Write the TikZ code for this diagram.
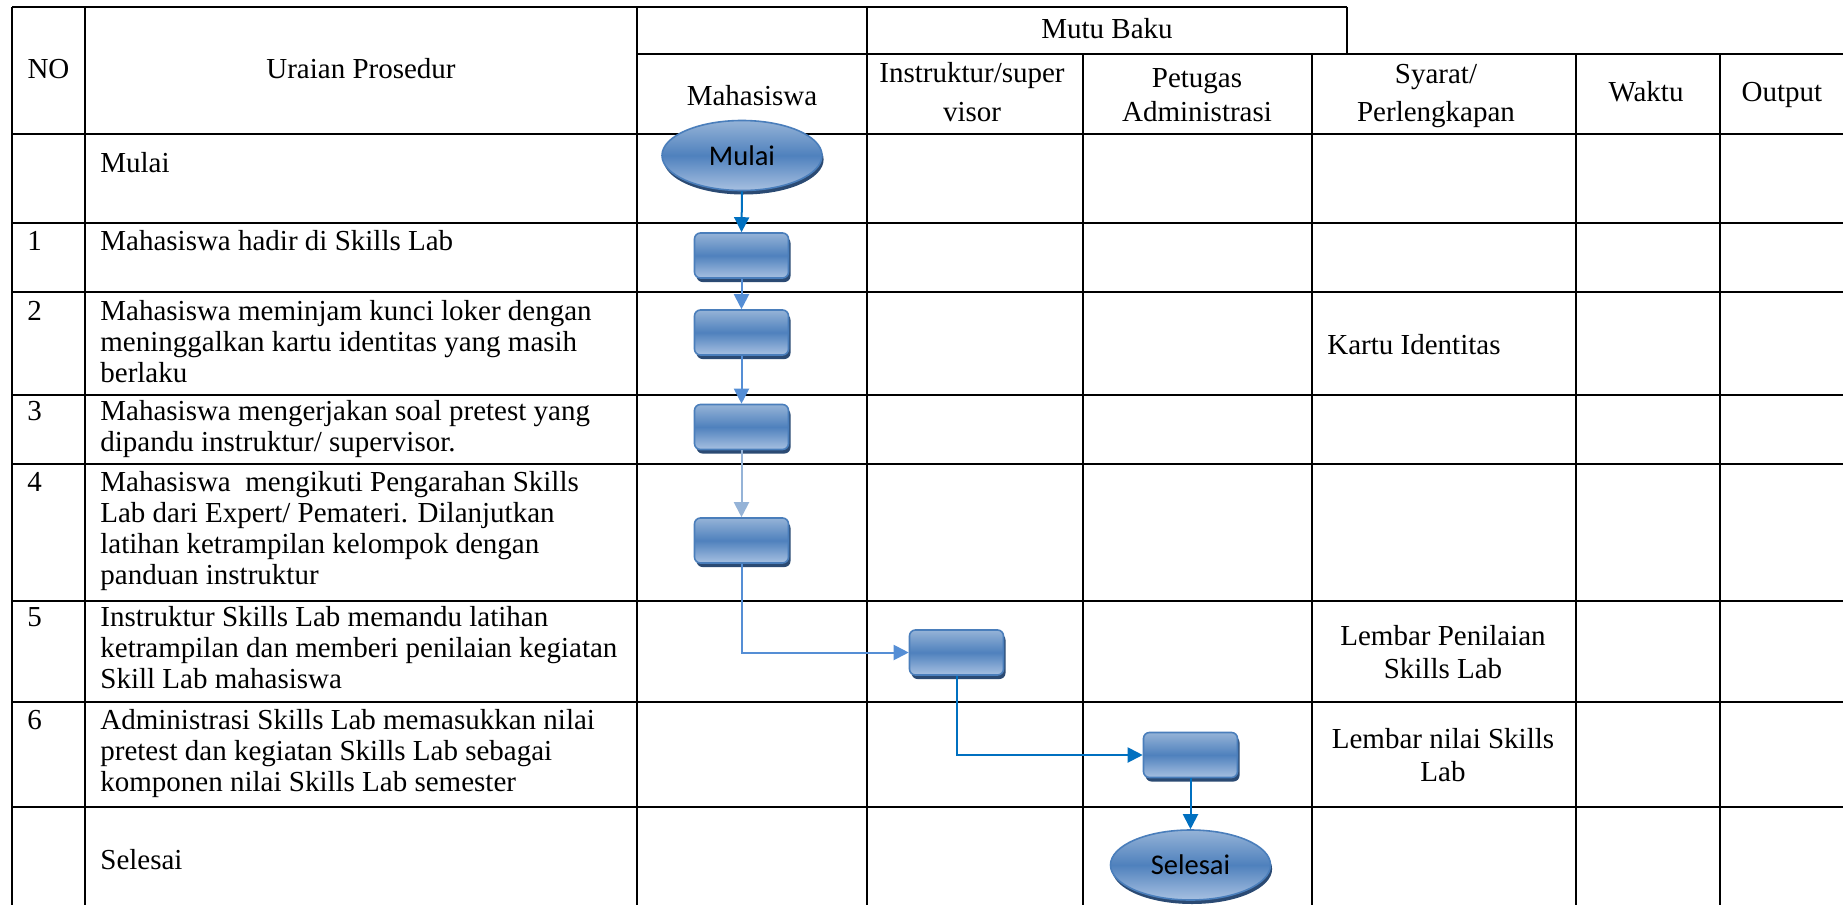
\documentclass[tikz,border=0pt]{standalone}
\usepackage{fontspec}
\setmainfont{Liberation Serif}
\newfontfamily\calib{Carlito}
\usetikzlibrary{shapes.geometric,shadows,arrows.meta,calc}
\definecolor{boxlight}{HTML}{95B3D7}
\definecolor{boxmid}{HTML}{4F81BD}
\definecolor{boxbottom}{HTML}{A7C0E1}
\definecolor{boxborder}{HTML}{4A7EBB}
\definecolor{shadowc}{HTML}{2B4A73}
\definecolor{arrdark}{HTML}{0070C0}
\definecolor{arrmid}{HTML}{558ED5}
\definecolor{arrlight}{HTML}{95B3D7}
\begin{document}
\begin{tikzpicture}[x=0.5pt,y=-0.5pt,
  grid/.style={line width=1pt, black},
  hgrid/.style={line width=1.4pt, black},
  txt/.style={anchor=base west, inner sep=0pt, font=\fontsize{14.5}{15.5}\selectfont},
  ctxt/.style={anchor=base, inner sep=0pt, font=\fontsize{14.5}{15.5}\selectfont},
  proc/.style={rectangle, rounded corners=3pt, minimum width=47pt, minimum height=22.5pt,
    inner sep=0pt, draw=boxborder, line width=0.8pt,
    top color=boxlight, bottom color=boxbottom, middle color=boxmid,
    drop shadow={shadow xshift=1pt, shadow yshift=-2pt, fill=shadowc, opacity=1}},
  term/.style={ellipse, minimum width=80pt, minimum height=35pt, inner sep=0pt,
    draw=boxborder, line width=0.8pt,
    top color=boxlight, bottom color=boxbottom, middle color=boxmid,
    drop shadow={shadow xshift=0.8pt, shadow yshift=-2pt, fill=shadowc, opacity=1},
    font=\calib\fontsize{14.25}{16}\selectfont},
  flow/.style={line width=1pt, -{Triangle[length=7.5pt,width=7.5pt]}},
]
\useasboundingbox (0,0) rectangle (1843,905);
\fill[white] (0,0) rectangle (1843,905);

% ---- table grid ----
\draw[grid] (12.3,6.7) -- (12.3,906);
\draw[grid] (85,6.7) -- (85,906);
\draw[grid] (637,6.7) -- (637,906);
\draw[grid] (867,6.7) -- (867,906);
\draw[grid] (1083,54.3) -- (1083,906);
\draw[grid] (1312,54.3) -- (1312,906);
\draw[grid] (1347,6.7) -- (1347,54.3);
\draw[grid] (1576,54.3) -- (1576,906);
\draw[grid] (1720,54.3) -- (1720,906);
\draw[grid] (12.3,6.7) -- (1347,6.7);
\draw[grid] (637,54.3) -- (1844,54.3);
\draw[hgrid] (12.3,134) -- (1844,134);
\foreach \yy in {222.5,292,394.5,464,601,702,807}
  \draw[grid] (12.3,\yy) -- (1844,\yy);

% ---- header texts ----
\node[ctxt] (hno) at (48.5,78.7) {NO};
\node[ctxt] (hur) at (361,78.7) {Uraian Prosedur};
\node[ctxt] (hmb) at (1107,38.3) {Mutu Baku};
\node[ctxt] (hmh) at (752,105) {Mahasiswa};
\node[ctxt] (his1) at (972,82) {Instruktur/super};
\node[ctxt] (his2) at (972,121) {visor};
\node[ctxt] (hpa1) at (1197,87) {Petugas};
\node[ctxt] (hpa2) at (1197,121) {Administrasi};
\node[ctxt] (hsp1) at (1436,83) {Syarat/};
\node[ctxt] (hsp2) at (1436,121) {Perlengkapan};
\node[ctxt] (hwk) at (1646,101.5) {Waktu};
\node[ctxt] (hop) at (1782,101.5) {Output};

% ---- row texts ----
\node[txt] (r0) at (100,172) {Mulai};
\node[txt] (n1) at (27,250.7) {1};
\node[txt] (r1) at (100,250.7) {Mahasiswa hadir di Skills Lab};
\node[txt] (n2) at (27,320.7) {2};
\node[txt] (r2a) at (100,320.7) {Mahasiswa meminjam kunci loker dengan};
\node[txt] (r2b) at (100,351.7) {meninggalkan kartu identitas yang masih};
\node[txt] (r2c) at (100,382.7) {berlaku};
\node[txt] (n3) at (27,420.7) {3};
\node[txt] (r3a) at (100,420.7) {Mahasiswa mengerjakan soal pretest yang};
\node[txt] (r3b) at (100,451.7) {dipandu instruktur/ supervisor.};
\node[txt] (n4) at (27,491.7) {4};
\node[txt] (r4a) at (100,491.7) {Mahasiswa\ \ mengikuti Pengarahan Skills};
\node[txt] (r4b) at (100,522.7) {Lab dari Expert/ Pemateri. Dilanjutkan};
\node[txt] (r4c) at (100,553.7) {latihan ketrampilan kelompok dengan};
\node[txt] (r4d) at (100,584.7) {panduan instruktur};
\node[txt] (n5) at (27,626.7) {5};
\node[txt] (r5a) at (100,626.7) {Instruktur Skills Lab memandu latihan};
\node[txt] (r5b) at (100,657.7) {ketrampilan dan memberi penilaian kegiatan};
\node[txt] (r5c) at (100,688.7) {Skill Lab mahasiswa};
\node[txt] (n6) at (27,729) {6};
\node[txt] (r6a) at (100,729) {Administrasi Skills Lab memasukkan nilai};
\node[txt] (r6b) at (100,760) {pretest dan kegiatan Skills Lab sebagai};
\node[txt] (r6c) at (100,791) {komponen nilai Skills Lab semester};
\node[txt] (r7) at (100,869) {Selesai};

% ---- syarat texts ----
\node[txt] (s2) at (1327,354) {Kartu Identitas};
\node[ctxt] (s5a) at (1443,645) {Lembar Penilaian};
\node[ctxt] (s5b) at (1443,678) {Skills Lab};
\node[ctxt] (s6a) at (1443,748.3) {Lembar nilai Skills};
\node[ctxt] (s6b) at (1443,781.7) {Lab};

% ---- flowchart ----
\node[term] (mulai) at (742,155.5) {Mulai};
\node[proc] (b1) at (741.5,255.5) {};
\node[proc] (b2) at (741.5,332.5) {};
\node[proc] (b3) at (741.5,427) {};
\node[proc] (b4) at (741.5,540.5) {};
\node[proc] (b5) at (956.5,652.5) {};
\node[proc] (b6) at (1190.5,755) {};
\node[term] (selesai) at (1190.5,865) {Selesai};

\draw[flow, arrdark] (mulai.south) -- (b1.north);
\draw[flow, arrmid] (b1.south) -- (b2.north);
\draw[flow, arrmid] (b2.south) -- (b3.north);
\draw[flow, arrlight] (b3.south) -- (b4.north);
\draw[flow, arrmid] (b4.south) |- (b5.west);
\draw[flow, arrdark] (b5.south) |- (b6.west);
\draw[flow, arrdark] (b6.south) -- (selesai.north);
\end{tikzpicture}
\end{document}
